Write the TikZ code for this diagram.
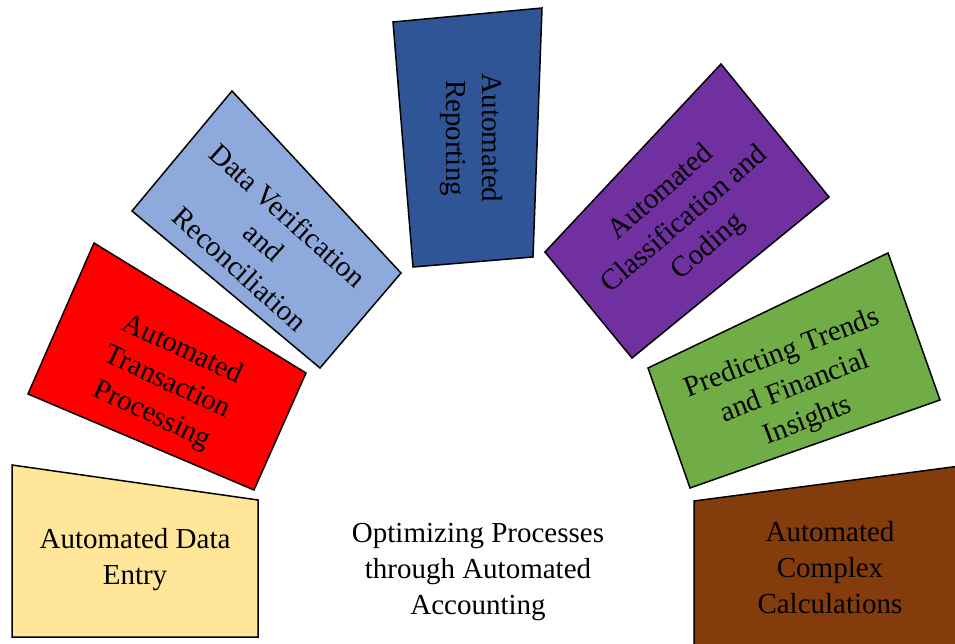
\documentclass[tikz,border=0pt]{standalone}
\usepackage{fontspec}
\setmainfont{Liberation Serif}
\definecolor{cYellow}{HTML}{FFE699}
\definecolor{cRed}{HTML}{FF0000}
\definecolor{cLightBlue}{HTML}{8EA9DB}
\definecolor{cDarkBlue}{HTML}{2F5597}
\definecolor{cPurple}{HTML}{7030A0}
\definecolor{cGreen}{HTML}{70AD47}
\definecolor{cBrown}{HTML}{843C0C}
\tikzset{
  box/.style={draw=black, line width=1.5pt, line join=miter},
  lbl/.style={font=\fontsize{29}{36}\selectfont, align=center, text=black, inner sep=0pt}
}
\begin{document}
\begin{tikzpicture}[x=1pt,y=-1pt]
\useasboundingbox (0,0) rectangle (955,644);
\fill[white] (0,0) rectangle (955,644);
% Automated Data Entry
\filldraw[box, fill=cYellow] (12,465) -- (258,500) -- (258,637) -- (12,637) -- cycle;
\node[lbl] (entry) at (135,560) {Automated Data\\Entry};
% Automated Transaction Processing
\filldraw[box, fill=cRed] (94,243) -- (306,373) -- (254,490) -- (28,394) -- cycle;
\node[lbl, rotate=-25] (trans) at (167,383) {Automated\\Transaction\\Processing};
% Data Verification and Reconciliation
\filldraw[box, fill=cLightBlue] (232,91) -- (401,273) -- (320,368) -- (132,211) -- cycle;
\node[lbl, rotate=-42] (verif) at (264,242) {Data Verification\\and\\Reconciliation};
% Automated Reporting
\filldraw[box, fill=cDarkBlue] (393,22) -- (542,8) -- (533,257) -- (413,267) -- cycle;
\node[lbl, rotate=-90] (report) at (471,138) {Automated\\Reporting};
% Automated Classification and Coding
\filldraw[box, fill=cPurple] (721,64) -- (829,197) -- (632,358) -- (545,252) -- cycle;
\node[lbl, rotate=41] (classif) at (685,220) {Automated\\Classification and\\Coding};
% Predicting Trends and Financial Insights
\filldraw[box, fill=cGreen] (648,368) -- (888,253) -- (940,400) -- (690,488) -- cycle;
\node[lbl, rotate=21] (trends) at (795,388) {Predicting Trends\\and Financial\\Insights};
% Automated Complex Calculations
\filldraw[box, fill=cBrown] (694,501) -- (960,466) -- (960,650) -- (694,650) -- cycle;
\node[lbl] (calc) at (830,568) {Automated\\Complex\\Calculations};
% Center
\node[lbl] (center) at (478,572) {Optimizing Processes\\through Automated\\Accounting};
\end{tikzpicture}
\end{document}
